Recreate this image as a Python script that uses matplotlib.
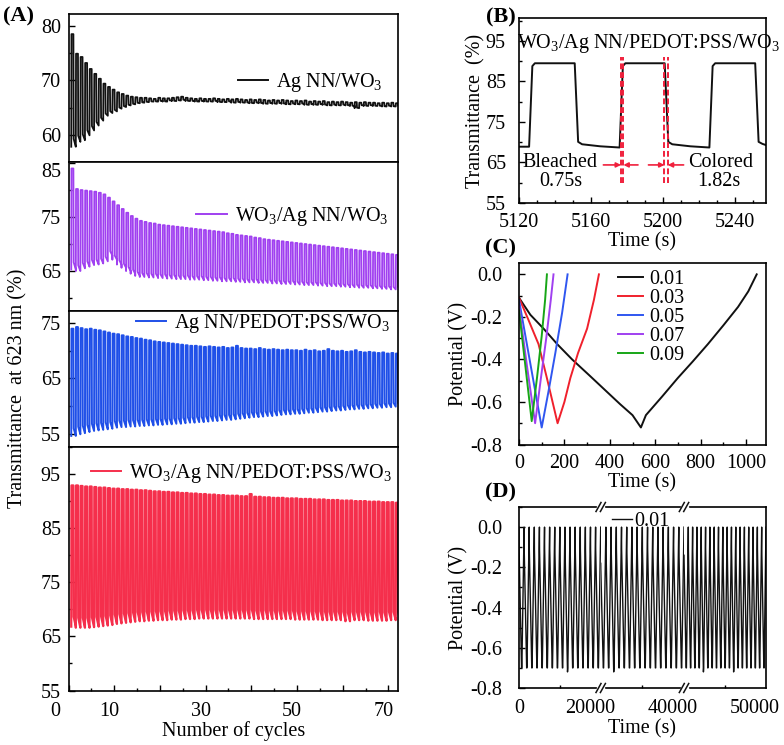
import numpy as np
import matplotlib
matplotlib.use('Agg')
import matplotlib.pyplot as plt
from matplotlib.ticker import MultipleLocator, FixedLocator, FixedFormatter, FormatStrFormatter
import matplotlib.transforms as mtransforms
from matplotlib.lines import Line2D

plt.rcParams['font.family'] = ['Liberation Serif', 'DejaVu Serif']
plt.rcParams['mathtext.fontset'] = 'custom'
plt.rcParams['mathtext.rm'] = 'Liberation Serif'
plt.rcParams['mathtext.it'] = 'Liberation Serif:italic'
plt.rcParams['font.size'] = 14.5
plt.rcParams['axes.unicode_minus'] = False
plt.rcParams['xtick.direction'] = 'in'
plt.rcParams['ytick.direction'] = 'in'
plt.rcParams['axes.linewidth'] = 1.2
plt.rcParams['xtick.major.size'] = 4
plt.rcParams['ytick.major.size'] = 4
plt.rcParams['xtick.minor.size'] = 2.5
plt.rcParams['ytick.minor.size'] = 2.5
plt.rcParams['xtick.major.width'] = 1.0
plt.rcParams['ytick.major.width'] = 1.0
plt.rcParams['xtick.minor.width'] = 1.0
plt.rcParams['ytick.minor.width'] = 1.0
plt.rcParams['xtick.major.pad'] = 8
plt.rcParams['ytick.major.pad'] = 5.5

# ---------------- data: panel A (per-cycle high / low transmittance) ----------------
a_labels = ['Ag NN/WO$_3$', 'WO$_3$/Ag NN/WO$_3$', 'Ag NN/PEDOT:PSS/WO$_3$',
            'WO$_3$/Ag NN/PEDOT:PSS/WO$_3$']
a_colors = ['#111111', '#A040F0', '#1F4FE8', '#F52F4C']
a_widths = [1.3, 1.3, 1.4, 1.6]

black_hi = [78.5, 74.9, 74.3, 73.2, 72.1, 71.2, 70.3, 69.4, 68.8, 68.3, 67.8, 67.5, 67.2, 67.0, 66.9, 66.8,
            66.8, 66.7, 66.6, 66.8, 66.7, 66.7, 66.8, 66.9, 67.0, 66.8, 66.7, 66.6, 66.7, 66.6, 66.6, 66.7,
            66.6, 66.5, 66.6, 66.5, 66.6, 66.5, 66.4, 66.5, 66.4, 66.5, 66.4, 66.3, 66.4, 66.3, 66.4, 66.3,
            66.2, 66.3, 66.2, 66.3, 66.1, 66.2, 66.1, 66.2, 66.0, 66.1, 66.0, 66.1, 66.0, 65.9, 66.0, 65.9,
            66.0, 65.9, 65.9, 65.8, 65.9, 65.8, 65.9, 65.8]
black_lo = [57.8, 58.7, 59.0, 59.9, 60.8, 61.7, 62.6, 63.5, 64.0, 64.3, 64.8, 65.1, 65.4, 65.6, 65.8, 65.9,
            66.0, 66.1, 66.1, 66.2, 66.1, 66.3, 66.2, 66.3, 66.4, 66.2, 66.2, 66.1, 66.2, 66.1, 66.1, 66.2,
            66.0, 66.0, 66.1, 65.9, 66.0, 65.9, 65.9, 65.8, 65.9, 65.8, 65.7, 65.8, 65.7, 65.8, 65.7, 65.6,
            65.7, 65.6, 65.7, 65.5, 65.6, 65.5, 65.6, 65.5, 65.4, 65.5, 65.4, 65.5, 65.4, 65.3, 64.9, 65.4,
            65.3, 65.4, 65.3, 65.3, 65.2, 65.3, 65.2, 65.3]
purple_hi = [83.9, 80.1, 79.9, 79.8, 79.7, 79.6, 79.4, 79.1, 78.5, 77.8, 77.1, 76.4, 75.7, 75.1, 74.6, 74.2,
             74.0, 73.8, 73.7, 73.5, 73.4, 73.3, 73.2, 73.1, 73.0, 72.9, 72.8, 72.7, 72.6, 72.5, 72.4, 72.3,
             72.2, 72.1, 71.9, 71.8, 71.6, 71.5, 71.4, 71.3, 71.1, 71.0, 70.8, 70.7, 70.6, 70.5, 70.4, 70.3,
             70.2, 70.1, 70.0, 69.9, 69.8, 69.7, 69.6, 69.5, 69.4, 69.3, 69.2, 69.1, 69.0, 68.9, 68.8, 68.7,
             68.6, 68.5, 68.4, 68.3, 68.2, 68.1, 68.0, 67.9]
purple_lo = [65.2, 64.9, 65.4, 65.7, 66.0, 66.1, 66.3, 66.7, 67.8, 67.0, 66.1, 65.5, 64.9, 64.4, 64.0, 63.8,
             63.8, 63.7, 63.7, 63.6, 63.6, 63.5, 63.5, 63.4, 63.4, 63.4, 63.3, 63.3, 63.3, 63.2, 63.2, 63.1,
             63.1, 63.0, 63.0, 63.0, 62.9, 62.9, 62.8, 62.8, 62.8, 62.7, 62.7, 62.7, 62.6, 62.6, 62.5, 62.5,
             62.5, 62.4, 62.4, 62.3, 62.3, 62.3, 62.2, 62.2, 62.1, 62.1, 62.1, 62.0, 62.0, 61.9, 61.9, 61.8,
             61.8, 61.8, 61.7, 61.7, 61.6, 61.6, 61.5, 61.5]
blue_hi = [74.0, 74.3, 74.1, 73.9, 74.0, 73.8, 73.7, 73.5, 73.3, 73.1, 73.0, 72.8, 72.6, 72.5, 72.3, 72.2,
           72.0, 71.9, 71.7, 71.6, 71.5, 71.4, 71.3, 71.2, 71.1, 71.0, 70.9, 70.9, 70.8, 70.7, 70.8, 70.7,
           70.6, 70.7, 70.5, 70.6, 70.9, 70.5, 70.4, 70.4, 70.3, 70.5, 70.3, 70.2, 70.3, 70.2, 70.1, 70.2,
           70.1, 70.1, 70.0, 70.2, 70.0, 70.1, 69.9, 70.0, 70.3, 70.0, 69.9, 70.0, 69.8, 69.9, 70.1, 69.8,
           69.7, 69.8, 69.7, 69.6, 69.7, 69.5, 69.6, 69.5]
blue_lo = [54.6, 54.9, 55.1, 55.3, 55.5, 55.6, 55.7, 55.8, 55.9, 56.1, 56.2, 56.2, 56.3, 56.3, 56.4, 56.4,
           56.5, 56.5, 56.6, 56.6, 56.7, 56.7, 56.8, 56.8, 56.9, 57.0, 57.0, 57.1, 57.1, 57.2, 57.3, 57.3,
           57.4, 57.5, 57.5, 57.6, 57.7, 57.8, 57.9, 58.0, 58.0, 58.1, 58.2, 58.2, 58.3, 58.4, 58.5, 58.5,
           58.6, 58.6, 58.7, 58.8, 58.8, 58.9, 59.0, 59.0, 59.1, 59.2, 59.2, 59.3, 59.4, 59.4, 59.5, 59.5,
           59.6, 59.6, 59.7, 59.7, 59.8, 59.8, 59.9, 59.9]
red_hi = [92.9, 92.9, 92.8, 92.7, 92.7, 92.6, 92.5, 92.5, 92.4, 92.3, 92.3, 92.2, 92.2, 92.1, 92.1, 92.0,
          92.0, 91.9, 91.8, 91.8, 91.7, 91.7, 91.6, 91.6, 91.5, 91.5, 91.4, 91.4, 91.3, 91.3, 91.2, 91.2,
          91.1, 91.1, 91.0, 91.0, 91.0, 90.9, 90.9, 91.3, 90.8, 90.8, 90.7, 90.7, 90.6, 90.6, 90.6, 90.5,
          90.5, 90.5, 90.4, 90.4, 90.4, 90.3, 90.3, 90.3, 90.2, 90.2, 90.2, 90.1, 90.1, 90.1, 90.0, 90.0,
          90.0, 89.9, 89.9, 89.9, 89.8, 89.8, 89.8, 89.7]
red_lo = [66.8, 66.6, 66.6, 66.6, 66.7, 66.8, 66.9, 67.0, 67.1, 67.3, 67.4, 67.5, 67.6, 67.7, 67.8, 67.8,
          67.9, 67.9, 68.0, 68.0, 68.0, 68.1, 68.1, 68.1, 68.2, 68.2, 68.2, 68.3, 68.3, 68.3, 68.3, 68.3,
          68.3, 68.3, 68.3, 68.3, 68.3, 68.3, 68.3, 68.3, 68.2, 68.2, 68.3, 68.2, 68.2, 68.2, 68.2, 68.2,
          68.2, 68.1, 68.1, 68.1, 68.1, 68.1, 68.1, 68.0, 68.0, 68.0, 68.0, 68.0, 67.8, 68.0, 68.0, 68.0,
          68.0, 67.9, 67.9, 68.0, 67.9, 68.0, 68.0, 68.0]
a_first_cycle = 0.6          # cycle number at which recording starts

# ---------------- data: panel B ----------------
b_time = [5120, 5125.6, 5127.4, 5128.8, 5150.9, 5152.8, 5155, 5165, 5175.8,
          5177.6, 5179.0, 5200.8, 5202.8, 5205, 5215, 5225.6,
          5227.4, 5228.8, 5251.0, 5252.9, 5255, 5257]
b_trans = [68.9, 68.9, 88.8, 89.5, 89.5, 70.1, 69.5, 69.0, 68.7,
           88.8, 89.5, 89.5, 70.1, 69.5, 69.0, 68.7,
           88.8, 89.5, 89.5, 70.1, 69.6, 69.3]
b_bleach_lines = [5176.6, 5177.9]
b_color_lines = [5200.7, 5202.5]

# ---------------- data: panel C ----------------
c_labels = ['0.01', '0.03', '0.05', '0.07', '0.09']
c_colors = ['#111111', '#F0202C', '#2F56F0', '#A040F0', '#17A617']
c_time = [
    [0, 50, 108, 170, 234, 310, 381, 445, 500, 537, 559, 630, 699, 765, 832, 900, 965, 1010, 1047],
    [0, 40, 86, 123, 170, 200, 226, 260, 300, 330, 352],
    [0, 50, 100, 130, 160, 190, 214],
    [0, 35, 71, 95, 120, 140, 152],
    [0, 28, 56, 80, 100, 115, 123],
]
c_pot = [
    [-0.11, -0.19, -0.255, -0.33, -0.40, -0.475, -0.546, -0.61, -0.662, -0.72, -0.662, -0.575,
     -0.488, -0.41, -0.328, -0.24, -0.153, -0.08, 0.0],
    [-0.11, -0.21, -0.328, -0.488, -0.70, -0.60, -0.488, -0.37, -0.255, -0.12, 0.0],
    [-0.12, -0.42, -0.72, -0.55, -0.37, -0.18, 0.0],
    [-0.15, -0.43, -0.70, -0.50, -0.30, -0.12, 0.0],
    [-0.17, -0.43, -0.69, -0.48, -0.29, -0.12, 0.0],
]

# ---------------- data: panel D ----------------
d_windows = [(0, 20000), (20000, 40000), (40000, 50000)]
d_tick_labels = [['0', '20000'], ['40000'], ['50000']]
d_peak = 0.0
d_ir = -0.11
d_troughs = [
    [-0.70] * 9 + [-0.72] + [-0.70] * 6,
    [-0.70, -0.70, -0.72] + [-0.70] * 13,
    [-0.70] * 4 + [-0.72] + [-0.70] * 6 + [-0.72] + [-0.70] * 7,
]
d_first_peak = [0.0, -0.18, -0.14]

# ---------------- figure ----------------
W, H = 784, 745
fig = plt.figure(figsize=(W / 100, H / 100), dpi=100)


def rect(l, t, r, b):
    return [l / W, 1 - b / H, (r - l) / W, (b - t) / H]


def px_shift(dx, dy=0):
    return mtransforms.ScaledTranslation(dx / 100, dy / 100, fig.dpi_scale_trans)


def square_wave(start, hi, lo):
    xs, ys = [], []
    for i, (h, l) in enumerate(zip(hi, lo)):
        s = start + i
        xs += [s, s + 0.05, s + 0.47, s + 0.53, s + 1.0]
        ys += [l, h, h, l + 0.07 * (h - l), l]
    return xs, ys


# Panel A
a_bounds = [(14, 162), (162, 311), (311, 447), (447, 690.5)]
a_ylims = [(55, 82.2), (57.5, 85.1), (52.6, 77.2), (55, 100)]
a_yticks = [[60, 70, 80], [65, 75, 85], [55, 65, 75], [55, 65, 75, 85, 95]]
a_hi = [black_hi, purple_hi, blue_hi, red_hi]
a_lo = [black_lo, purple_lo, blue_lo, red_lo]
a_leg = [(0.954, 0.534), (0.970, 0.633), (0.976, 0.910), (0.982, 0.893)]
a_axes = []
for k in range(4):
    ax = fig.add_axes(rect(68.5, a_bounds[k][0], 398, a_bounds[k][1]))
    xs, ys = square_wave(a_first_cycle, a_hi[k], a_lo[k])
    ax.plot(xs, ys, color=a_colors[k], lw=a_widths[k], label=a_labels[k])
    ax.set_xlim(0, 72.1)
    ax.set_ylim(*a_ylims[k])
    ax.yaxis.set_major_locator(FixedLocator(a_yticks[k]))
    ax.yaxis.set_minor_locator(MultipleLocator(5))
    ax.tick_params(axis='y', which='both', right=False)
    leg = ax.legend(loc='center right', bbox_to_anchor=a_leg[k], frameon=False,
                    handlelength=1.5, handletextpad=0.4, borderpad=0, borderaxespad=0)
    for h in leg.get_lines():
        h.set_linewidth(1.4)
    if k < 3:
        ax.tick_params(axis='x', which='both', bottom=False, top=False, labelbottom=False)
    else:
        ax.xaxis.set_major_locator(FixedLocator(list(range(0, 71, 10))))
        ax.xaxis.set_major_formatter(FixedFormatter(['0', '10', '', '30', '', '50', '', '70']))
        ax.xaxis.set_minor_locator(MultipleLocator(5))
        ax.tick_params(axis='x', which='both', top=False)
        ax.set_xlabel('Number of cycles', labelpad=0)
        labs = ax.get_xticklabels()
        for i, lab in enumerate(labs):
            lab.set_transform(lab.get_transform() + px_shift(-13 if i == 0 else -5))
    a_axes.append(ax)
for lab in a_axes[1].get_yticklabels():
    if lab.get_text() == '85':
        lab.set_transform(lab.get_transform() + px_shift(0, -7))
fig.text(18 / W, 1 - 388 / H, 'Transmittance  at 623 nm (%)', rotation=90,
         ha='center', va='center')

# Panel B
axb = fig.add_axes(rect(519, 18.3, 766, 203))
axb.plot(b_time, b_trans, color='#111111', lw=1.4)
axb.set_xlim(5120, 5257)
axb.set_ylim(55, 100.6)
axb.xaxis.set_major_locator(MultipleLocator(40))
axb.xaxis.set_minor_locator(MultipleLocator(10))
axb.yaxis.set_major_locator(FixedLocator([55, 65, 75, 85, 95]))
axb.yaxis.set_minor_locator(MultipleLocator(5))
axb.tick_params(which='both', top=False, right=False)
axb.tick_params(axis='y', which='major', pad=9.5)
axb.tick_params(axis='x', which='major', pad=7.5)
for tl in b_bleach_lines + b_color_lines:
    axb.plot([tl, tl], [59.9, 91.1], color='#F0203C', lw=1.4, ls=(0, (3, 1.5)))
arrow_kw = dict(arrowstyle='-|>', color='#F0203C', lw=1.2, mutation_scale=7,
                shrinkA=0, shrinkB=0)
axb.annotate('', xy=(b_bleach_lines[0], 64.4), xytext=(5166.8, 64.4), arrowprops=arrow_kw)
axb.annotate('', xy=(b_bleach_lines[1], 64.4), xytext=(5186.0, 64.4), arrowprops=arrow_kw)
axb.annotate('', xy=(b_color_lines[0], 64.4), xytext=(5191.8, 64.4), arrowprops=arrow_kw)
axb.annotate('', xy=(b_color_lines[1], 64.4), xytext=(5211.3, 64.4), arrowprops=arrow_kw)
axb.text(5192, 94.5, 'WO$_3$/Ag NN/PEDOT:PSS/WO$_3$', ha='center', va='center', clip_on=False)
axb.text(5142.8, 64.9, 'Bleached', ha='center', va='center')
axb.text(5143.3, 60.3, '0.75s', ha='center', va='center')
axb.text(5232, 64.9, 'Colored', ha='center', va='center')
axb.text(5231, 60.3, '1.82s', ha='center', va='center')
axb.set_xlabel('Time (s)', labelpad=0)
axb.set_ylabel('Transmittance  (%)', labelpad=0)

# Panel C
axc = fig.add_axes(rect(519, 263.3, 766, 444.5))
for t, v, c, lab in zip(c_time, c_pot, c_colors, c_labels):
    axc.plot(t, v, color=c, lw=1.4, label=lab)
axc.set_xlim(0, 1088)
axc.set_ylim(-0.8, 0.052)
axc.xaxis.set_major_locator(MultipleLocator(200))
axc.xaxis.set_minor_locator(MultipleLocator(100))
axc.yaxis.set_major_locator(MultipleLocator(0.2))
axc.yaxis.set_minor_locator(MultipleLocator(0.1))
axc.yaxis.set_major_formatter(FormatStrFormatter('%.1f'))
axc.tick_params(which='both', top=False, right=False)
axc.tick_params(axis='y', which='major', pad=12)
axc.tick_params(axis='x', which='major', pad=7)
axc.legend(loc='upper right', bbox_to_anchor=(0.672, 0.963), frameon=False,
           handlelength=1.25, handletextpad=0.35, borderpad=0, borderaxespad=0,
           labelspacing=0.0)
axc.set_xlabel('Time (s)', labelpad=0)
axc.set_ylabel('Potential (V)', labelpad=1)

# Panel D (broken time axis)
d_px = [(519, 600.7), (600.7, 684), (684, 766)]
d_axes = []
for k in range(3):
    ax = fig.add_axes(rect(d_px[k][0], 507, d_px[k][1], 688))
    t0, t1 = d_windows[k]
    n = len(d_troughs[k])
    starts = np.linspace(t0, t1, n, endpoint=False)
    P = (t1 - t0) / n
    xs, ys = [], []
    for i, s in enumerate(starts):
        pk = d_first_peak[k] if i == 0 else d_peak
        second = pk - 0.03 if (i == 0 and k > 0) else pk + d_ir
        xs += [s, s + 0.02 * P, s + 0.50 * P, s + 0.56 * P, s + P]
        ys += [pk, second, d_troughs[k][i], -0.70, d_peak]
    ax.plot(xs, ys, color='#111111', lw=1.0, label='0.01')
    ax.set_xlim(t0, t1)
    ax.set_ylim(-0.8, 0.1)
    ax.xaxis.set_major_locator(FixedLocator([t0, t1] if k == 0 else [t1]))
    ax.xaxis.set_major_formatter(FixedFormatter(d_tick_labels[k]))
    ax.xaxis.set_minor_locator(FixedLocator([(t0 + t1) / 2]))
    ax.tick_params(axis='x', which='major', length=0)
    ax.tick_params(axis='x', which='both', top=False)
    labs = ax.get_xticklabels()
    if k > 0:
        ax.spines['left'].set_visible(False)
        ax.tick_params(axis='y', which='both', left=False, labelleft=False)
        for lab in labs:
            lab.set_transform(lab.get_transform() + px_shift(-11))
    else:
        ax.yaxis.set_major_locator(MultipleLocator(0.2))
        ax.yaxis.set_minor_locator(MultipleLocator(0.1))
        ax.yaxis.set_major_formatter(FormatStrFormatter('%.1f'))
        ax.tick_params(axis='y', which='major', pad=12)
        ax.set_ylabel('Potential (V)', labelpad=1)
        labs[1].set_transform(labs[1].get_transform() + px_shift(-11))
    if k < 2:
        ax.spines['right'].set_visible(False)
    ax.tick_params(axis='y', which='both', right=False)
    d_axes.append(ax)
d_axes[1].legend(loc='center', bbox_to_anchor=(0.484, 0.919), frameon=False,
                 handlelength=1.0, handletextpad=0.1, borderpad=0, borderaxespad=0)
fig.text(642 / W, 1 - 729 / H, 'Time (s)', ha='center', va='center')
# break marks
for bx in [600.7, 684]:
    for by in [507, 688]:
        fig.add_artist(plt.Rectangle(((bx - 3.5) / W, 1 - (by + 1) / H), 7 / W, 2 / H,
                                     transform=fig.transFigure, color='white', zorder=5))
        for dx in (-2.2, 2.2):
            fig.add_artist(Line2D([(bx + dx - 2.5) / W, (bx + dx + 2.5) / W],
                                  [1 - (by + 4.5) / H, 1 - (by - 4.5) / H],
                                  transform=fig.transFigure, color='#111111', lw=1.1, zorder=6))

# panel letters
for txt, x, y in [('(A)', 19, 16), ('(B)', 501, 17), ('(C)', 501, 248), ('(D)', 501, 492)]:
    fig.text(x / W, 1 - y / H, txt, ha='center', va='center', fontsize=16, fontweight='bold')

fig.savefig('out.png', dpi=100)
